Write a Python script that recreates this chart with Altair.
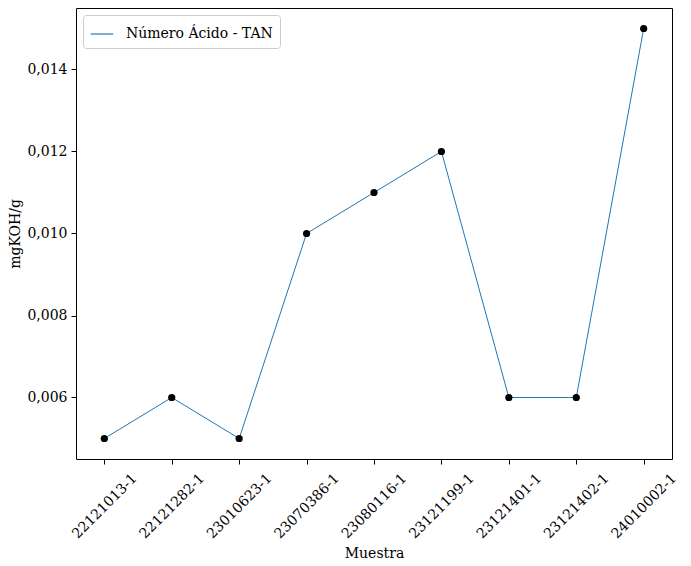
import altair as alt
import pandas as pd

muestras = ["22121013-1", "22121282-1", "23010623-1", "23070386-1", "23080116-1",
            "23121199-1", "23121401-1", "23121402-1", "24010002-1"]
valores = [0.005, 0.006, 0.005, 0.010, 0.011, 0.012, 0.006, 0.006, 0.015]
serie = "Número Ácido - TAN"
y_ticks = [0.006, 0.008, 0.010, 0.012, 0.014]

df = pd.DataFrame({"Muestra": muestras, "valor": valores, "serie": [serie] * len(muestras)})

FONT = "DejaVu Serif"

x = alt.X("Muestra:N", sort=muestras, title="Muestra",
          scale=alt.Scale(type="point", padding=0.42),
          axis=alt.Axis(labelAngle=315, labelAlign="center", labelBaseline="middle",
                        labelPadding=42, titlePadding=6, tickSize=5, tickColor="black",
                        tickWidth=1, domain=False, grid=False, labelFont=FONT, titleFont=FONT,
                        labelFontSize=14, titleFontSize=14, labelColor="black",
                        titleColor="black", titleFontWeight="normal"))
y = alt.Y("valor:Q", title="mgKOH/g",
          scale=alt.Scale(domain=[0.0045, 0.0155], nice=False, zero=False),
          axis=alt.Axis(values=y_ticks,
                        labelExpr="replace(format(datum.value, '.3f'), '.', ',')",
                        tickSize=5, tickColor="black", tickWidth=1, domain=False, grid=False,
                        labelFont=FONT, titleFont=FONT, labelFontSize=14, titleFontSize=14,
                        labelColor="black", titleColor="black", titleFontWeight="normal",
                        labelPadding=4, titlePadding=4))

line = alt.Chart(df).mark_line(strokeWidth=1).encode(
    x=x, y=y,
    color=alt.Color("serie:N", title=None,
                    scale=alt.Scale(domain=[serie], range=["#1f77b4"]),
                    legend=alt.Legend(orient="top-left", symbolType="stroke",
                                      symbolSize=500, symbolStrokeWidth=1.2,
                                      labelFont=FONT, labelFontSize=14, labelColor="black",
                                      fillColor="white", strokeColor="#cccccc",
                                      cornerRadius=3, padding=7, offset=7,
                                      labelOffset=12))
)
points = alt.Chart(df).mark_point(filled=True, size=52, color="black", opacity=1).encode(x=x, y=y)

chart = alt.layer(line, points).properties(
    width=596, height=451,
    autosize=alt.AutoSizeParams(type="none"),
    padding={"left": 68, "top": 0, "right": 11, "bottom": 104},
).configure(background="white").configure_view(stroke="black", strokeWidth=1)

chart.save("out.html", embed_options={"renderer": "svg", "actions": False})
